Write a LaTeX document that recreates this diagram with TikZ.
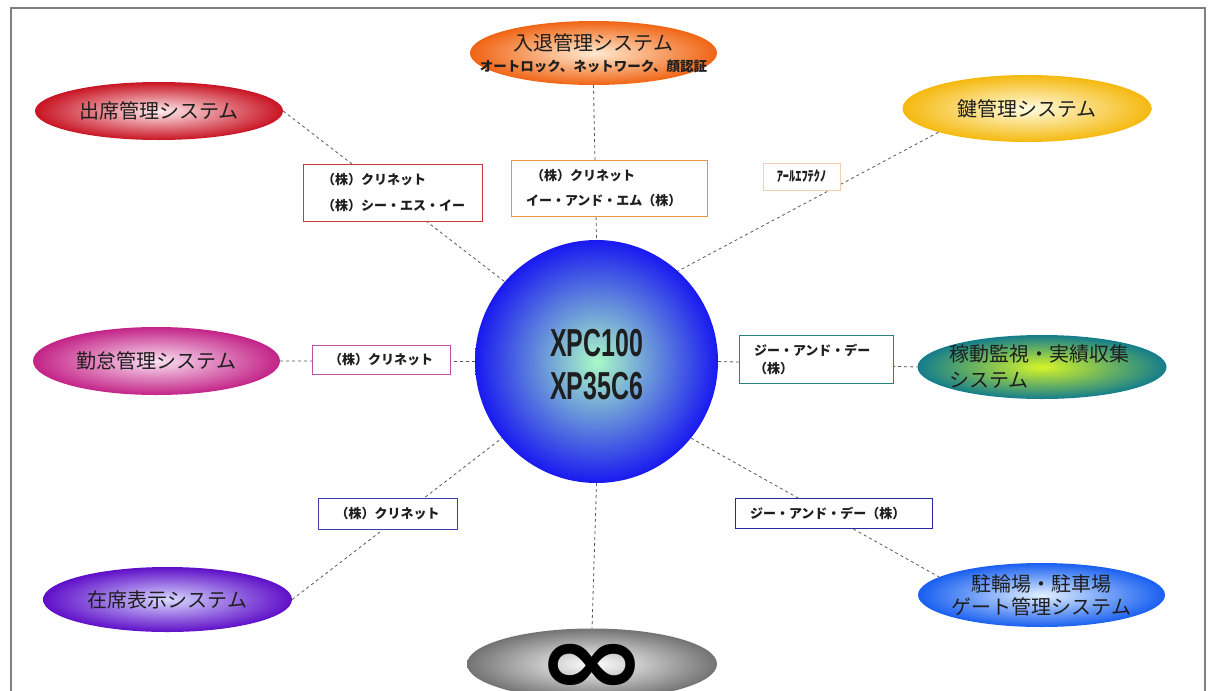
\documentclass[tikz,border=0pt]{standalone}
\usepackage{fontspec}
\usetikzlibrary{shapes.geometric}
\newfontfamily\jp{Noto Sans CJK JP}
\newfontfamily\lat{Liberation Sans}
\newfontfamily\dv{DejaVu Sans}
\definecolor{redO}{RGB}{200,20,35}
\definecolor{redI}{RGB}{255,235,238}
\definecolor{orgO}{RGB}{240,100,20}
\definecolor{orgI}{RGB}{255,235,210}
\definecolor{yelO}{RGB}{245,185,15}
\definecolor{yelI}{RGB}{255,252,225}
\definecolor{magO}{RGB}{195,35,135}
\definecolor{magI}{RGB}{250,225,242}
\definecolor{tealO}{RGB}{20,125,140}
\definecolor{tealI}{RGB}{215,245,40}
\definecolor{purO}{RGB}{95,15,200}
\definecolor{purI}{RGB}{215,215,255}
\definecolor{bluO}{RGB}{25,95,240}
\definecolor{bluI}{RGB}{225,240,255}
\definecolor{gryO}{RGB}{115,115,115}
\definecolor{gryI}{RGB}{255,255,255}
\definecolor{hubO}{RGB}{25,25,240}
\definecolor{hubI}{RGB}{170,250,200}
\definecolor{txt}{RGB}{30,30,30}
\definecolor{bxRed}{RGB}{205,55,55}
\definecolor{bxOrg}{RGB}{235,150,60}
\definecolor{bxPch}{RGB}{245,205,175}
\definecolor{bxMag}{RGB}{190,80,160}
\definecolor{bxTeal}{RGB}{40,130,130}
\definecolor{bxPur}{RGB}{60,60,175}
\definecolor{bxBlu}{RGB}{40,40,160}
\begin{document}
\begin{tikzpicture}[x=1pt,y=-1pt,
  sys/.style={ellipse, inner sep=0pt, minimum width=248, minimum height=64,
    font=\jp\fontsize{20}{26}\selectfont, text=txt, align=center},
  lbox/.style={draw, fill=white, line width=1pt, inner sep=0pt, text=txt,
    font=\jp\bfseries\fontsize{13}{26}\selectfont, align=left},
  conn/.style={draw=black!65, line width=0.8pt, dash pattern=on 3pt off 3pt}]
\clip (0,0) rectangle (1216,691);
\fill[white] (0,0) rectangle (1216,691);
\draw[black!50, line width=2pt] (11,700) -- (11,8) -- (1205,8) -- (1205,700);

% hub
\node[circle, minimum size=243, inner sep=0pt, inner color=hubI, outer color=hubO,
  text=txt, align=center, font=\lat\bfseries\fontsize{39}{43}\selectfont]
  (hub) at (596.5,361.5) {\raisebox{-3pt}[\height][\depth]{\scalebox{0.64}[1]{XPC100}}\\\raisebox{-3pt}[\height][\depth]{\scalebox{0.64}[1]{XP35C6}}};

% systems
\node[sys, minimum width=247, inner xsep=-28pt, inner color=orgI, outer color=orgO] (entry) at (593.5,53)
  {\raisebox{1pt}{入退管理システム}\\[-6pt]{\bfseries\fontsize{13.5}{20}\selectfont オートロック、ネットワーク、顔認証}};
\node[sys, minimum height=58, inner color=redI, outer color=redO] (att) at (159,111) {出席管理システム};
\node[sys, minimum width=249, minimum height=67, inner color=yelI, outer color=yelO] (key) at (1027,108.5) {鍵管理システム};
\node[sys, minimum width=247, minimum height=68, inner color=magI, outer color=magO] (kin) at (156.5,361) {勤怠管理システム};
\node[sys, minimum width=249, inner xsep=-6pt, inner color=tealI, outer color=tealO, align=left, text width=186] (kado) at (1042,367) {稼動監視・実績収集\\システム};
\node[sys, minimum width=249, minimum height=65, inner color=purI, outer color=purO] (zai) at (167.5,599.5) {在席表示システム};
\node[sys, minimum width=247, inner xsep=-4pt, inner color=bluI, outer color=bluO, font=\jp\fontsize{20}{23}\selectfont] (park) at (1041.5,595) {駐輪場・駐車場\\ゲート管理システム};
\node[sys, minimum width=250, inner color=gryI, outer color=gryO, text=black, font=\dv\bfseries\fontsize{92}{92}\selectfont] (inf) at (592,664) {\raisebox{-5pt}[\height][\depth]{\scalebox{1.45}[1.08]{∞}}};

% connectors
\draw[conn] (att.east) -- (hub.139);
\draw[conn] (entry.south) -- (hub.north);
\draw[conn] (key.195) -- (hub.48);
\draw[conn] (kin.east) -- (hub.west);
\draw[conn] (hub.east) -- (kado.west);
\draw[conn] (zai.east) -- (hub.219);
\draw[conn] (hub.321) -- (park.170);
\draw[conn] (hub.south) -- (inf.north);

% company boxes
\node[lbox, draw=bxRed, minimum width=179, minimum height=57, text width=141]
  (b1) at (392.5,192.5) {（株）クリネット\\（株）シー・エス・イー};
\node[lbox, draw=bxOrg, minimum width=196, minimum height=56, text width=166,
  font=\jp\bfseries\fontsize{13}{25}\selectfont]
  (b2) at (609,188) {\hspace{5pt}（株）クリネット\\イー・アンド・エム（株）};
\node[lbox, draw=bxPch, minimum width=77, minimum height=27, align=center,
  font=\jp\bfseries\fontsize{13}{15}\selectfont]
  (b3) at (801.5,176.5) {\scalebox{0.95}[1.1]{ｱｰﾙｴﾌﾃｸﾉ}};
\node[lbox, draw=bxMag, minimum width=138, minimum height=29, align=center]
  (b4) at (381,359.5) {（株）クリネット};
\node[lbox, draw=bxTeal, minimum width=154, minimum height=48, text width=124,
  font=\jp\bfseries\fontsize{13}{18}\selectfont]
  (b5) at (816,359) {ジー・アンド・デー\\（株）};
\node[lbox, draw=bxPur, minimum width=139, minimum height=31, align=center]
  (b6) at (387.5,513.5) {（株）クリネット};
\node[lbox, draw=bxBlu, minimum width=197, minimum height=30, text width=167]
  (b7) at (833.5,513) {ジー・アンド・デー（株）};
\end{tikzpicture}
\end{document}
